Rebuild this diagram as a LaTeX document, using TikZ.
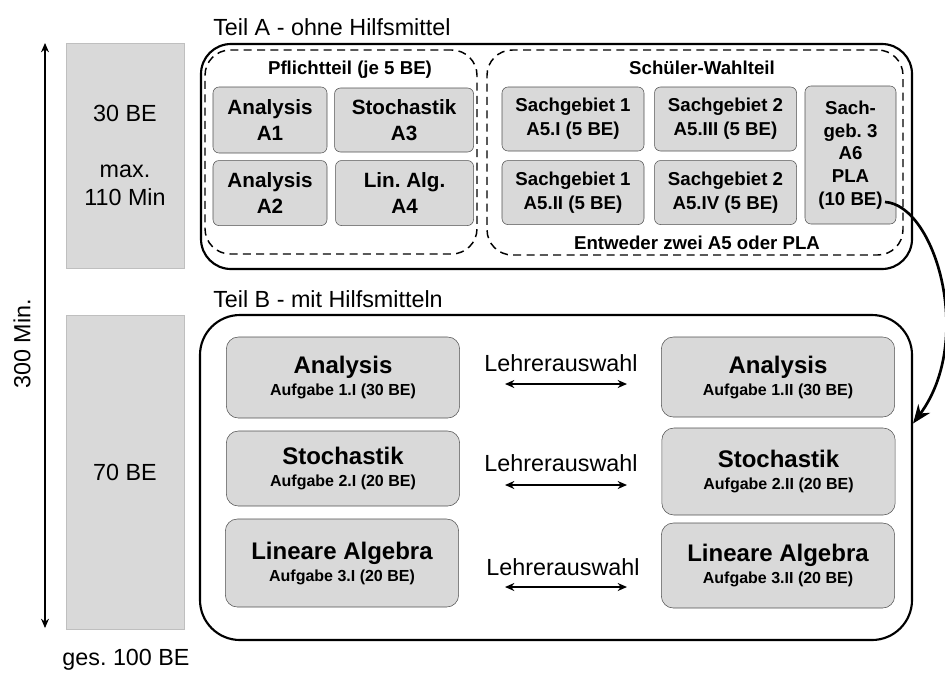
\documentclass[tikz,border=0pt]{standalone}
\usepackage{fontspec}
\setmainfont{Liberation Sans}
\usetikzlibrary{arrows.meta, positioning}
\frenchspacing

\definecolor{boxgray}{HTML}{D9D9D9}
\definecolor{rimgray}{HTML}{505050}
\definecolor{sidegray}{HTML}{BFBFBF}

\begin{document}
\begin{tikzpicture}[
    x=0.75pt, y=-0.75pt,
    plaintext/.style={font=\fontsize{17.5}{21}\selectfont, inner sep=0pt},
    sidebox/.style={draw=sidegray, fill=boxgray, inner sep=0pt, align=center, minimum width=88.5pt, font=\fontsize{17.5}{21}\selectfont},
    partbox/.style={draw, line width=1.6pt, rounded corners=22.5pt, inner sep=0pt},
    dashgroup/.style={draw, line width=1.1pt, dash pattern=on 6pt off 4pt, rounded corners=19pt, inner sep=0pt},
    grouplabel/.style={font=\bfseries\fontsize{14}{18}\selectfont, inner sep=0pt},
    task/.style={draw=rimgray, fill=boxgray, rounded corners=4.5pt, align=center, inner sep=0pt, font=\bfseries\fontsize{15.5}{19.5}\selectfont},
    subtask/.style={task, minimum width=106.5pt, minimum height=48pt, font=\bfseries\fontsize{14}{18}\selectfont},
    bigtask/.style={draw=rimgray, fill=boxgray, rounded corners=9pt, align=center, inner sep=0pt, minimum width=175pt, font=\bfseries\fontsize{12}{16.5}\selectfont},
    choicearrow/.style={{Stealth[length=7pt,width=6pt]}-{Stealth[length=7pt,width=6pt]}, line width=1.3pt}
]
  \useasboundingbox (0,0) rectangle (945,672);

  % Time column on the left
  \node[sidebox, minimum height=168.75pt] (timeA) at (125,155.5) {30 BE\\[21pt]max.\\110 Min};
  \node[sidebox, minimum height=235.5pt] (timeB) at (125,472) {70 BE};
  \coordinate (ttop) at (45,43);
  \coordinate (tbot) at (45,628);
  \draw[{Stealth[length=7pt,width=6pt]}-{Stealth[length=7pt,width=6pt]}, line width=0.8pt] (ttop) -- (tbot);
  \node[plaintext, rotate=90] (total) at (22,344) {300 Min.};
  \node[plaintext] (sum) at (126,660) {ges. 100 BE};

  % Teil A
  \node[plaintext, anchor=base west] (titleA) at (213,35) {Teil A - ohne Hilfsmittel};
  \node[partbox, minimum width=533.25pt, minimum height=168.75pt] (partA) at (556.5,156.5) {};

  \node[dashgroup, minimum width=204pt, minimum height=153pt] (pflicht) at (341,152) {};
  \node[grouplabel] (pflichtlbl) at (350,70) {Pflichtteil (je 5 BE)};
  \node[task, minimum width=85.5pt, minimum height=49.5pt] (a1) at (270,120) {Analysis\\A1};
  \node[task, minimum width=104.25pt, minimum height=48pt, right=5.25pt of a1] (a3) {Stochastik\\A3};
  \node[task, minimum width=85.5pt, minimum height=48.75pt, below=5.25pt of a1] (a2) {Analysis\\A2};
  \node[task, minimum width=103.5pt, minimum height=48.75pt, right=6pt of a2] (a4) {Lin. Alg.\\A4};

  \node[dashgroup, minimum width=312pt, minimum height=153.75pt] (wahl) at (695,152.5) {};
  \node[grouplabel] (wahllbl) at (702,68) {Schüler-Wahlteil};
  \node[subtask] (s1) at (573,119) {Sachgebiet 1\\A5.I (5 BE)};
  \node[subtask, right=7.5pt of s1] (s3) {Sachgebiet 2\\A5.III (5 BE)};
  \node[subtask, below=6.75pt of s1] (s2) {Sachgebiet 1\\A5.II (5 BE)};
  \node[subtask, right=7.5pt of s2] (s4) {Sachgebiet 2\\A5.IV (5 BE)};
  \node[subtask, minimum width=68.25pt, minimum height=103.5pt, font=\bfseries\fontsize{14}{17}\selectfont] (pla) at (850.5,155) {Sach-\\geb. 3\\A6\\PLA\\(10 BE)};
  \node[grouplabel] (wahlnote) at (697,243) {Entweder zwei A5 oder PLA};

  % Teil B
  \node[plaintext, anchor=base west] (titleB) at (213,307) {Teil B - mit Hilfsmitteln};
  \node[partbox, rounded corners=30pt, minimum width=534pt, minimum height=243.75pt] (partB) at (556,477.5) {};

  \node[bigtask, minimum height=60.75pt] (an1) at (343,377.5) {{\fontsize{18}{16.5}\selectfont Analysis}\\Aufgabe 1.I (30 BE)};
  \node[bigtask, minimum height=56.25pt] (st1) at (343,468.5) {{\fontsize{18}{16.5}\selectfont Stochastik}\\Aufgabe 2.I (20 BE)};
  \node[bigtask, minimum height=66pt] (la1) at (342,563) {{\fontsize{18}{16.5}\selectfont Lineare Algebra}\\Aufgabe 3.I (20 BE)};
  \node[bigtask, minimum height=60pt] (an2) at (778,377) {{\fontsize{18}{16.5}\selectfont Analysis}\\Aufgabe 1.II (30 BE)};
  \node[bigtask, minimum height=65.25pt] (st2) at (778.5,471.5) {{\fontsize{18}{16.5}\selectfont Stochastik}\\Aufgabe 2.II (20 BE)};
  \node[bigtask, minimum height=63.75pt] (la2) at (778,565.5) {{\fontsize{18}{16.5}\selectfont Lineare Algebra}\\Aufgabe 3.II (20 BE)};

  % Lehrerauswahl between the columns
  \node[plaintext] (pick1) at (561,363) {Lehrerauswahl};
  \node[plaintext] (pick2) at (561,463) {Lehrerauswahl};
  \node[plaintext] (pick3) at (563,567) {Lehrerauswahl};
  \coordinate (pick1l) at (505,384);
  \coordinate (pick1r) at (627,384);
  \coordinate (pick2l) at (505,485);
  \coordinate (pick2r) at (627,485);
  \coordinate (pick3l) at (505,587);
  \coordinate (pick3r) at (627,587);
  \draw[choicearrow] (pick1l) -- (pick1r);
  \draw[choicearrow] (pick2l) -- (pick2r);
  \draw[choicearrow] (pick3l) -- (pick3r);

  % PLA leads into Teil B
  \coordinate (plaend) at (885,202);
  \draw[line width=2pt, -{Stealth[length=14pt,width=11pt]}] (plaend) .. controls (935,205) and (975,340) .. ([yshift=40.5pt]partB.east);

\end{tikzpicture}
\end{document}
